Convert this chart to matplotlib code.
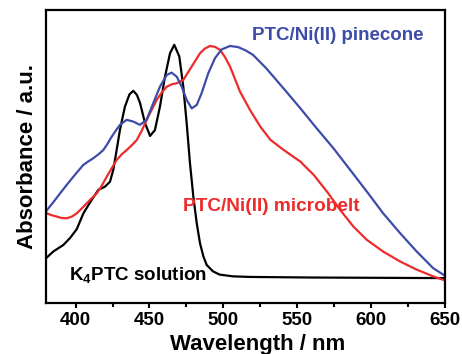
import matplotlib
matplotlib.use("Agg")
import matplotlib.pyplot as plt
from matplotlib.ticker import MultipleLocator

plt.rcParams['font.family'] = ['Liberation Sans', 'DejaVu Sans']
plt.rcParams['font.weight'] = 'bold'
plt.rcParams['mathtext.fontset'] = 'custom'
plt.rcParams['mathtext.rm'] = 'Liberation Sans:bold'
plt.rcParams['mathtext.bf'] = 'Liberation Sans:bold'

# K4PTC solution
wl_k = [380, 385, 391.7, 396.3, 400.8, 405.3, 410.9, 415.4, 419.9, 423.3, 425.5, 427.8,
        430, 433.4, 436.5, 439.1, 441.5, 443.6, 447, 450.4, 453.7, 457.1, 460.5, 463.9,
        466.8, 470.2, 472.9, 475.2, 477.4, 479.7, 482, 484.2, 486.5, 488.7, 493, 497.5,
        506.5, 518, 560, 650]
ab_k = [0.153, 0.176, 0.198, 0.222, 0.252, 0.306, 0.352, 0.386, 0.397, 0.414, 0.454,
        0.522, 0.590, 0.670, 0.712, 0.724, 0.710, 0.683, 0.614, 0.570, 0.590, 0.670,
        0.772, 0.852, 0.881, 0.841, 0.738, 0.613, 0.478, 0.363, 0.272, 0.204, 0.159,
        0.130, 0.108, 0.097, 0.091, 0.089, 0.087, 0.085]

# PTC/Ni(II) microbelt
wl_r = [380, 383.5, 387.2, 390.5, 394, 397.5, 400.8, 404, 407.5, 410.8, 414.3, 417.7,
        421.1, 424.5, 427.8, 431.2, 434.6, 438, 441.4, 444.8, 448.1, 451.5, 454.9, 458.3,
        461.7, 465, 468.5, 472.9, 478.6, 484.2, 487.5, 491, 494.3, 497.7, 501, 504.5,
        511.3, 518, 525, 531.8, 540.6, 552, 561, 570, 579, 588, 597, 608, 619.5, 630.8,
        642, 650]
ab_r = [0.307, 0.300, 0.295, 0.290, 0.289, 0.295, 0.306, 0.322, 0.340, 0.357, 0.374,
        0.400, 0.431, 0.460, 0.488, 0.507, 0.522, 0.538, 0.556, 0.588, 0.625, 0.659,
        0.693, 0.718, 0.738, 0.746, 0.750, 0.761, 0.807, 0.852, 0.868, 0.877, 0.874,
        0.864, 0.840, 0.807, 0.721, 0.659, 0.602, 0.557, 0.523, 0.483, 0.438, 0.381,
        0.318, 0.261, 0.216, 0.176, 0.142, 0.114, 0.091, 0.077]

# PTC/Ni(II) pinecone
wl_b = [380, 384.8, 389.5, 394, 398.5, 402, 405.2, 408.6, 412, 415.4, 418.8, 421.6,
        424.5, 427.3, 430.1, 434.6, 439.1, 443.6, 448.1, 452.6, 457.1, 461.7, 465, 468.5,
        471.8, 475.2, 478.6, 482, 485.3, 489.8, 494.3, 498.8, 504.5, 510.1, 515, 520,
        529, 540.6, 552, 563, 574.5, 585.7, 597, 608, 619.5, 630.8, 642, 650]
ab_b = [0.313, 0.343, 0.374, 0.403, 0.431, 0.452, 0.471, 0.483, 0.494, 0.507, 0.522,
        0.543, 0.568, 0.589, 0.608, 0.625, 0.619, 0.608, 0.625, 0.682, 0.738, 0.778,
        0.786, 0.772, 0.738, 0.693, 0.664, 0.676, 0.716, 0.784, 0.835, 0.865, 0.877,
        0.873, 0.862, 0.847, 0.801, 0.733, 0.665, 0.597, 0.528, 0.455, 0.381, 0.307,
        0.239, 0.176, 0.119, 0.093]

xticks = [400, 450, 500, 550, 600, 650]

BLACK = '#000000'
RED = '#ee2b2b'
BLUE = '#3c4ca8'

fig = plt.figure(figsize=(4.62, 3.54), dpi=100)
ax = fig.add_axes([0.0996, 0.144, 0.8636, 0.828])

lw = 1.6
ax.plot(wl_k, ab_k, color=BLACK, lw=lw, solid_joinstyle='round')
ax.plot(wl_r, ab_r, color=RED, lw=lw, solid_joinstyle='round')
ax.plot(wl_b, ab_b, color=BLUE, lw=lw, solid_joinstyle='round')

ax.set_xlim(380, 650)
ax.set_ylim(0, 1)
ax.set_xticks(xticks)
ax.set_xticklabels([str(t) for t in xticks])
ax.xaxis.set_minor_locator(MultipleLocator(25))
ax.set_yticks([])
ax.tick_params(axis='x', which='major', direction='out', length=3.5, width=1.5,
               labelsize=13.5, pad=3)
ax.tick_params(axis='x', which='minor', direction='out', length=3, width=1.5)
for lab in ax.get_xticklabels():
    lab.set_fontweight('bold')
for s in ax.spines.values():
    s.set_linewidth(1.6)

ax.set_xlabel('Wavelength / nm', fontsize=16, fontweight='bold', labelpad=0)
ax.xaxis.set_label_coords(0.53, -0.105)
ax.set_ylabel('Absorbance / a.u.', fontsize=16, fontweight='bold', labelpad=6)

ax.text(519.4, 0.911, 'PTC/Ni(II) pinecone', color=BLUE, fontsize=13.5,
        fontweight='bold', ha='left', va='center')
ax.text(472.7, 0.328, 'PTC/Ni(II) microbelt', color=RED, fontsize=13.7,
        fontweight='bold', ha='left', va='center')
ax.text(395.6, 0.092, r'K$_\mathbf{4}$PTC solution', color=BLACK, fontsize=13.5,
        fontweight='bold', ha='left', va='center')

fig.savefig('out.png', dpi=100)
